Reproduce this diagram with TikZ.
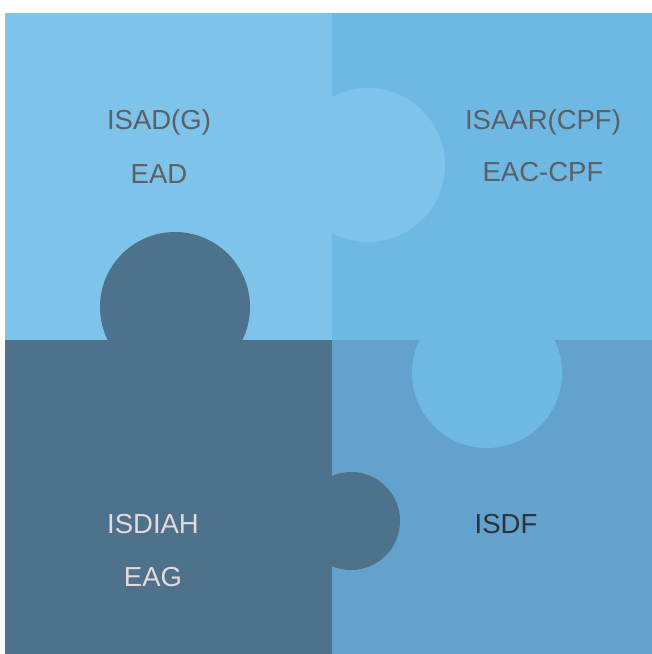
\documentclass[tikz,border=0pt]{standalone}
\usepackage{fontspec}
\setmainfont{Liberation Sans}
\definecolor{pieceTL}{HTML}{7DC3EA}
\definecolor{pieceTR}{HTML}{6EB8E4}
\definecolor{pieceBL}{HTML}{4E718C}
\definecolor{pieceBR}{HTML}{62A2CD}
\definecolor{labeldark}{HTML}{5C5F63}
\definecolor{labellight}{HTML}{E6D9DC}
\definecolor{labelblack}{HTML}{2E3236}

\begin{document}
\begin{tikzpicture}[x=1pt,y=-1pt,
    label/.style={font=\fontsize{27.5}{31}\selectfont,inner sep=0pt}]

    \useasboundingbox (0,0) rectangle (652,654);

    % four pieces
    \fill[pieceTL] (5,13) rectangle (332,340);
    \fill[pieceTR] (332,13) rectangle (652,340);
    \fill[pieceBL] (5,340) rectangle (332,654);
    \fill[pieceBR] (332,340) rectangle (652,654);

    % knobs
    \fill[pieceTL] (368,165) circle (77);
    \fill[pieceBL] (175,307) circle (75);
    \fill[pieceTR] (487,373) circle (75);
    \fill[pieceBL] (351,521) circle (49);

    % labels
    \node[label,text=labeldark] (isad) at (159,122) {ISAD(G)};
    \node[label,text=labeldark] (ead) at (159,174) {EAD};
    \node[label,text=labeldark] (isaar) at (543,122) {ISAAR(CPF)};
    \node[label,text=labeldark] (eaccpf) at (543,172) {EAC-CPF};
    \node[label,text=labellight] (isdiah) at (153,524) {ISDIAH};
    \node[label,text=labellight] (eag) at (153,577) {EAG};
    \node[label,text=labelblack] (isdf) at (506,524) {ISDF};

\end{tikzpicture}
\end{document}
